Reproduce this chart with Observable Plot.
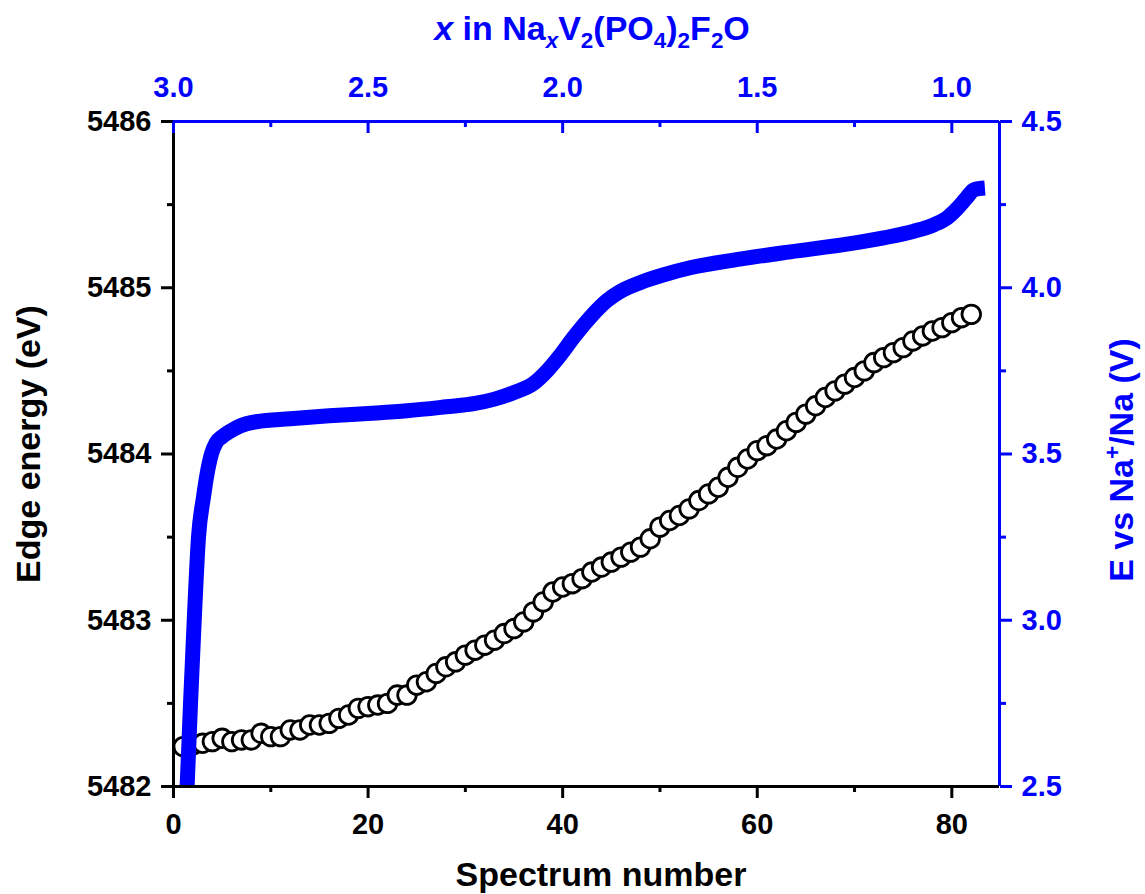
<!DOCTYPE html>
<html>
<head>
<meta charset="utf-8">
<script src="https://cdn.jsdelivr.net/npm/d3@7"></script>
<script src="https://cdn.jsdelivr.net/npm/@observablehq/plot@0.6"></script>
<style>
  html, body { margin: 0; padding: 0; background: #ffffff; }
  #chart svg { display: block; }
</style>
</head>
<body>
<div id="chart"></div>
<script>
// ---------- data ----------
const spectrumNumbers = [1,2,3,4,5,6,7,8,9,10,11,12,13,14,15,16,17,18,19,20,
  21,22,23,24,25,26,27,28,29,30,31,32,33,34,35,36,37,38,39,40,
  41,42,43,44,45,46,47,48,49,50,51,52,53,54,55,56,57,58,59,60,
  61,62,63,64,65,66,67,68,69,70,71,72,73,74,75,76,77,78,79,80,81,82];
const edgeEnergy = [5482.24,5482.25,5482.26,5482.27,5482.29,5482.27,5482.28,5482.28,5482.32,5482.30,
  5482.30,5482.34,5482.34,5482.37,5482.37,5482.38,5482.41,5482.43,5482.47,5482.48,
  5482.49,5482.50,5482.55,5482.55,5482.61,5482.63,5482.68,5482.72,5482.75,5482.79,
  5482.82,5482.85,5482.88,5482.92,5482.95,5482.99,5483.05,5483.11,5483.17,5483.20,
  5483.22,5483.25,5483.29,5483.32,5483.35,5483.38,5483.41,5483.44,5483.49,5483.56,
  5483.60,5483.63,5483.67,5483.72,5483.76,5483.80,5483.86,5483.92,5483.97,5484.02,
  5484.05,5484.09,5484.14,5484.19,5484.24,5484.29,5484.34,5484.38,5484.42,5484.46,
  5484.50,5484.55,5484.58,5484.61,5484.64,5484.68,5484.71,5484.74,5484.76,5484.79,
  5484.82,5484.84];

// voltage curve (E vs Na+/Na) against spectrum number
const curveSpectrum = [1.32,1.40,1.75,2.13,2.57,3.08,3.45,3.90,4.40,5.00,5.80,6.90,8.50,12,16,20,24,28,31,33,35,37,
  38.4,39.7,41.1,42.8,44.5,46,48,50.5,53.1,58.2,63.4,69.2,73,76.1,78.2,79.5,80.6,81.5,82.3,83.4];
const curveVoltage = [2.45,2.50,2.75,3.00,3.25,3.37,3.44,3.50,3.535,3.552,3.568,3.585,3.597,3.606,3.615,3.622,3.630,3.642,3.652,3.665,3.685,3.712,
  3.750,3.795,3.850,3.910,3.960,3.990,4.016,4.040,4.060,4.086,4.108,4.131,4.150,4.170,4.190,4.210,4.240,4.270,4.295,4.300];

// ticks
const xDomain = [0, 84.9];
const yDomain = [5482, 5486];
const rightDomain = [2.5, 4.5];
const bottomTicks = [0, 20, 40, 60, 80];
const bottomMinor = [10, 30, 50, 70];
const leftTicks = [5482, 5483, 5484, 5485, 5486];
const leftMinor = [5482.5, 5483.5, 5484.5, 5485.5];
const rightTicks = [2.5, 3.0, 3.5, 4.0, 4.5];
const rightMinor = [2.75, 3.25, 3.75, 4.25];
const topTicks = [3.0, 2.5, 2.0, 1.5, 1.0];
const topMinor = [2.75, 2.25, 1.75, 1.25];
const topRef = [3.0, 1.0];      // Na content x at the spectrum numbers below
const topRefSpectrum = [0, 80];

// ---------- layout ----------
const W = 1145, H = 894;
const M = {top: 121, bottom: 108, left: 173, right: 146};
const pxPerY = (H - M.top - M.bottom) / (yDomain[1] - yDomain[0]);

// ---------- helpers ----------
const BLUE = "#0000ff";
const FONT = "'Liberation Sans', Arial, Helvetica, sans-serif";
const vToY = d3.scaleLinear(rightDomain, yDomain);
const naToX = d3.scaleLinear(topRef, topRefSpectrum);

const circles = spectrumNumbers.map((s, i) => ({s, e: edgeEnergy[i]}));
const curve = curveSpectrum.map((s, i) => ({s, v: curveVoltage[i]}));

const axisText = {fontSize: 29, fontWeight: "bold", label: null, strokeWidth: 3};

const plot = Plot.plot({
  width: W,
  height: H,
  marginTop: M.top,
  marginBottom: M.bottom,
  marginLeft: M.left,
  marginRight: M.right,
  style: {fontFamily: FONT, fontWeight: "bold", fontSize: "29px", background: "#ffffff", color: "#000000"},
  x: {domain: xDomain, label: null},
  y: {domain: yDomain, label: null},
  marks: [
    Plot.dot(circles, {x: "s", y: "e", r: 9.3, stroke: "#000000", strokeWidth: 2.8, fill: "#ffffff"}),
    Plot.line(curve, {x: "s", y: d => vToY(d.v), stroke: BLUE, strokeWidth: 15,
      strokeLinecap: "butt", strokeLinejoin: "round", curve: "monotone-x", clip: true}),
    // frame lines
    Plot.ruleX([xDomain[0]], {stroke: "#000000", strokeWidth: 3}),
    Plot.ruleY([yDomain[0]], {stroke: "#000000", strokeWidth: 3}),
    Plot.ruleY([yDomain[1]], {stroke: BLUE, strokeWidth: 3}),
    Plot.ruleX([xDomain[1]], {stroke: BLUE, strokeWidth: 3}),
    // bottom axis
    Plot.axisX(bottomTicks, {...axisText, anchor: "bottom", tickSize: 12, tickPadding: 15,
      tickFormat: d => String(d), color: "#000000"}),
    Plot.axisX(bottomMinor, {...axisText, anchor: "bottom", tickSize: 6, tickFormat: () => "", color: "#000000"}),
    // left axis
    Plot.axisY(leftTicks, {...axisText, anchor: "left", tickSize: 12, tickPadding: 10,
      tickFormat: d => String(d), color: "#000000"}),
    Plot.axisY(leftMinor, {...axisText, anchor: "left", tickSize: 6, tickFormat: () => "", color: "#000000"}),
    // right axis (voltage)
    Plot.axisY(rightTicks.map(vToY), {...axisText, anchor: "right", tickSize: 12, tickPadding: 10,
      tickFormat: d => vToY.invert(d).toFixed(1), color: BLUE}),
    Plot.axisY(rightMinor.map(vToY), {...axisText, anchor: "right", tickSize: 6, tickFormat: () => "", color: BLUE}),
    // top axis (Na content): labels, then inward-pointing ticks
    Plot.axisX(topTicks.map(naToX), {...axisText, anchor: "top", tickSize: 0, tickPadding: 25,
      tickFormat: d => naToX.invert(d).toFixed(1), color: BLUE}),
    Plot.ruleX(topTicks.map(naToX), {y1: yDomain[1], y2: yDomain[1] - 12 / pxPerY, stroke: BLUE, strokeWidth: 3}),
    Plot.ruleX(topMinor.map(naToX), {y1: yDomain[1], y2: yDomain[1] - 6 / pxPerY, stroke: BLUE, strokeWidth: 3})
  ]
});

document.getElementById("chart").appendChild(plot);

// ---------- axis titles (rich text) ----------
const svg = d3.select(plot);
function rich(parent, parts, size) {
  const t = parent.append("text")
    .attr("font-family", FONT).attr("font-weight", "bold").attr("font-size", size)
    .attr("text-anchor", "middle");
  let shift = 0;
  for (const p of parts) {
    const ts = t.append("tspan").text(p.t);
    let want = 0;
    if (p.sub) { want = size * 0.24; ts.attr("font-size", size * 0.66); }
    if (p.sup) { want = -size * 0.38; ts.attr("font-size", size * 0.66); }
    if (p.it) ts.attr("font-style", "italic");
    if (want !== shift) ts.attr("dy", want - shift);
    shift = want;
  }
  return t;
}

// bottom title
rich(svg.append("g").attr("transform", "translate(601,886)"),
  [{t: "Spectrum number"}], 34).attr("fill", "#000000");

// left title
rich(svg.append("g").attr("transform", "translate(40,444) rotate(-90)"),
  [{t: "Edge energy (eV)"}], 34).attr("fill", "#000000");

// right title
rich(svg.append("g").attr("transform", "translate(1133,460) rotate(-90)"),
  [{t: "E vs Na"}, {t: "+", sup: true}, {t: "/Na (V)"}], 34).attr("fill", BLUE);

// top title
rich(svg.append("g").attr("transform", "translate(592,40)"),
  [{t: "x", it: true}, {t: " in Na"}, {t: "x", it: true, sub: true}, {t: "V"}, {t: "2", sub: true},
   {t: "(PO"}, {t: "4", sub: true}, {t: ")"}, {t: "2", sub: true}, {t: "F"}, {t: "2", sub: true}, {t: "O"}], 34)
  .attr("fill", BLUE);
</script>
</body>
</html>
